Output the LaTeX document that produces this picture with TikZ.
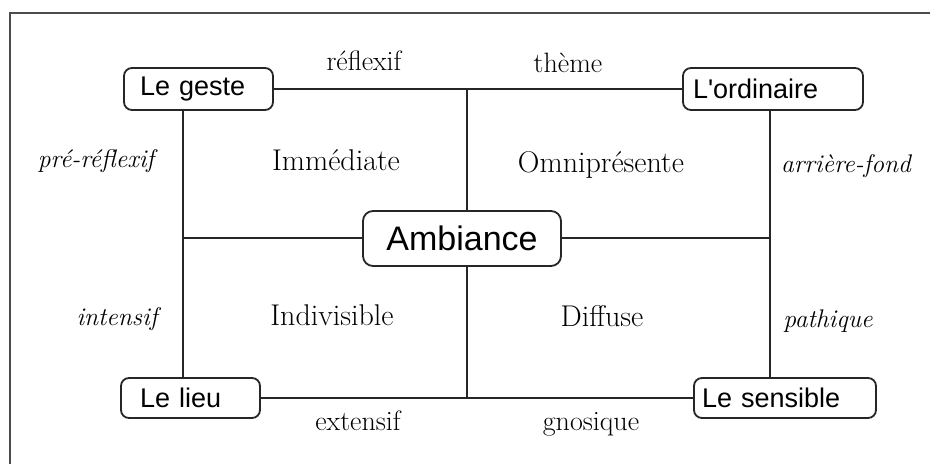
\documentclass[tikz,border=0pt]{standalone}
\usepackage{fontspec}
\newfontfamily\boxfont{Liberation Sans}
\begin{document}
\begin{tikzpicture}[x=1pt, y=-1pt,
  term/.style={draw=black!85, line width=1.8pt, rounded corners=8pt, fill=white, font=\boxfont\fontsize{27}{30}\selectfont, minimum height=42pt, inner ysep=0pt},
  lab/.style={anchor=base, font=\fontsize{28}{30}\selectfont},
  quad/.style={anchor=base, font=\fontsize{30}{32}\selectfont},
  side/.style={anchor=base, font=\itshape\fontsize{25.5}{28}\selectfont},
  link/.style={draw=black!85, line width=1.8pt}]
\useasboundingbox (0,0) rectangle (930,464);
\draw[line width=2pt, black!70] (10,464) -- (10,13) -- (930,13);
\node[term, inner xsep=16pt, text width=117pt] (geste) at (198.5,89) {Le geste};
\node[term, inner xsep=10pt, text width=160pt] (ord) at (773,89) {L\textquotesingle ordinaire};
\node[term, inner xsep=19pt, text width=101pt, minimum height=40pt] (lieu) at (190.5,398) {Le lieu};
\node[term, inner xsep=8pt, text width=166pt, minimum height=40pt] (sens) at (785,398) {Le sensible};
\coordinate (tc) at (467,89);
\coordinate (bc) at (467,398);
\coordinate (ml) at (183,238);
\coordinate (mr) at (770,238);
\draw[link] (geste) -- (ord);
\draw[link] (lieu) -- (sens);
\draw[link] (tc) -- (bc);
\draw[link] (ml) -- (mr);
\draw[link] (geste.south -| ml) -- (lieu.north -| ml);
\draw[link] (ord.south -| mr) -- (sens.north -| mr);
\node[term, rounded corners=10pt, font=\boxfont\fontsize{34}{38}\selectfont, minimum width=198pt, minimum height=55pt] (amb) at (462,238.5) {Ambiance};
\node[lab] (refl) at (364,70) {réflexif};
\node[lab] (theme) at (568,72.5) {thème};
\node[lab] (ext) at (358,430) {extensif};
\node[lab] (gnos) at (591,430) {gnosique};
\node[side] (prerefl) at (96,167) {pré-réflexif};
\node[side] (fond) at (846,172) {arrière-fond};
\node[side] (intens) at (117,325) {intensif};
\node[side] (path) at (828,327) {pathique};
\node[quad] (imm) at (336,170) {Immédiate};
\node[quad] (omni) at (601,172) {Omniprésente};
\node[quad] (indiv) at (332,325) {Indivisible};
\node[quad] (diff) at (602,326) {Diffuse};
\end{tikzpicture}
\end{document}
